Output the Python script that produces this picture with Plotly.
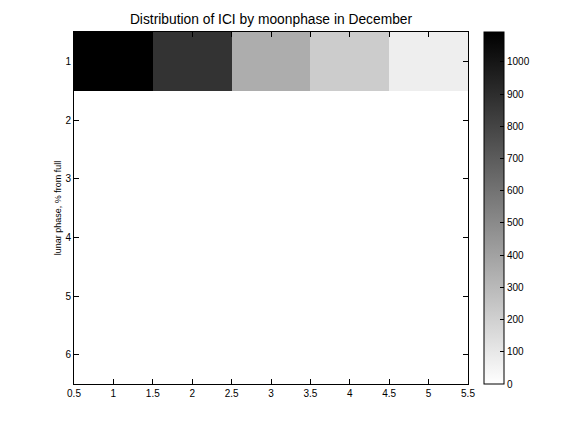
import plotly.graph_objects as go

phase_bins = [1, 2, 3, 4, 5]
rows = [1, 2, 3, 4, 5, 6]
counts = [
    [1093, 875, 351, 219, 73],
    [0, 0, 0, 0, 0],
    [0, 0, 0, 0, 0],
    [0, 0, 0, 0, 0],
    [0, 0, 0, 0, 0],
    [0, 0, 0, 0, 0],
]
cb_ticks = [0, 100, 200, 300, 400, 500, 600, 700, 800, 900, 1000]
x_ticks = [0.5, 1, 1.5, 2, 2.5, 3, 3.5, 4, 4.5, 5, 5.5]

font = dict(family="Liberation Sans, Arial, sans-serif", color="black", size=10)

fig = go.Figure(go.Heatmap(
    x=phase_bins, y=rows, z=counts,
    zmin=0, zmax=1093,
    colorscale=[[0, "white"], [1, "black"]],
    colorbar=dict(
        x=1.04, xanchor="left", xref="paper",
        y=0, yanchor="bottom", len=1, lenmode="fraction",
        thickness=20, thicknessmode="pixels",
        outlinecolor="black", outlinewidth=1,
        tickvals=cb_ticks, ticks="inside", ticklen=4, tickcolor="black",
        tickfont=font, xpad=0, ypad=0,
    ),
    hoverinfo="x+y+z",
))

fig.update_layout(
    width=576, height=432,
    margin=dict(l=74, r=108, t=32, b=48),
    paper_bgcolor="white", plot_bgcolor="white",
    font=font,
    title=dict(text="Distribution of ICI by moonphase in December",
               x=0.5, xref="paper", xanchor="center",
               y=1 - 19/432, yanchor="middle", font=dict(size=13.8)),
    showlegend=False,
)
fig.update_xaxes(range=[0.5, 5.5], tickvals=x_ticks, ticktext=[str(v) for v in x_ticks],
                 ticks="inside", ticklen=5, tickcolor="black", mirror="ticks",
                 showline=True, linecolor="black", linewidth=1, showgrid=False,
                 zeroline=False)
fig.update_yaxes(range=[6.5, 0.5], tickvals=rows,
                 ticks="inside", ticklen=5, tickcolor="black", mirror="ticks",
                 showline=True, linecolor="black", linewidth=1, showgrid=False,
                 zeroline=False,
                 title=dict(text="lunar phase, % from full", font=dict(size=9), standoff=2))

fig.write_html("out.html", config={"displayModeBar": False},
               post_script="document.body.style.margin='0';document.body.style.overflow='hidden';")
